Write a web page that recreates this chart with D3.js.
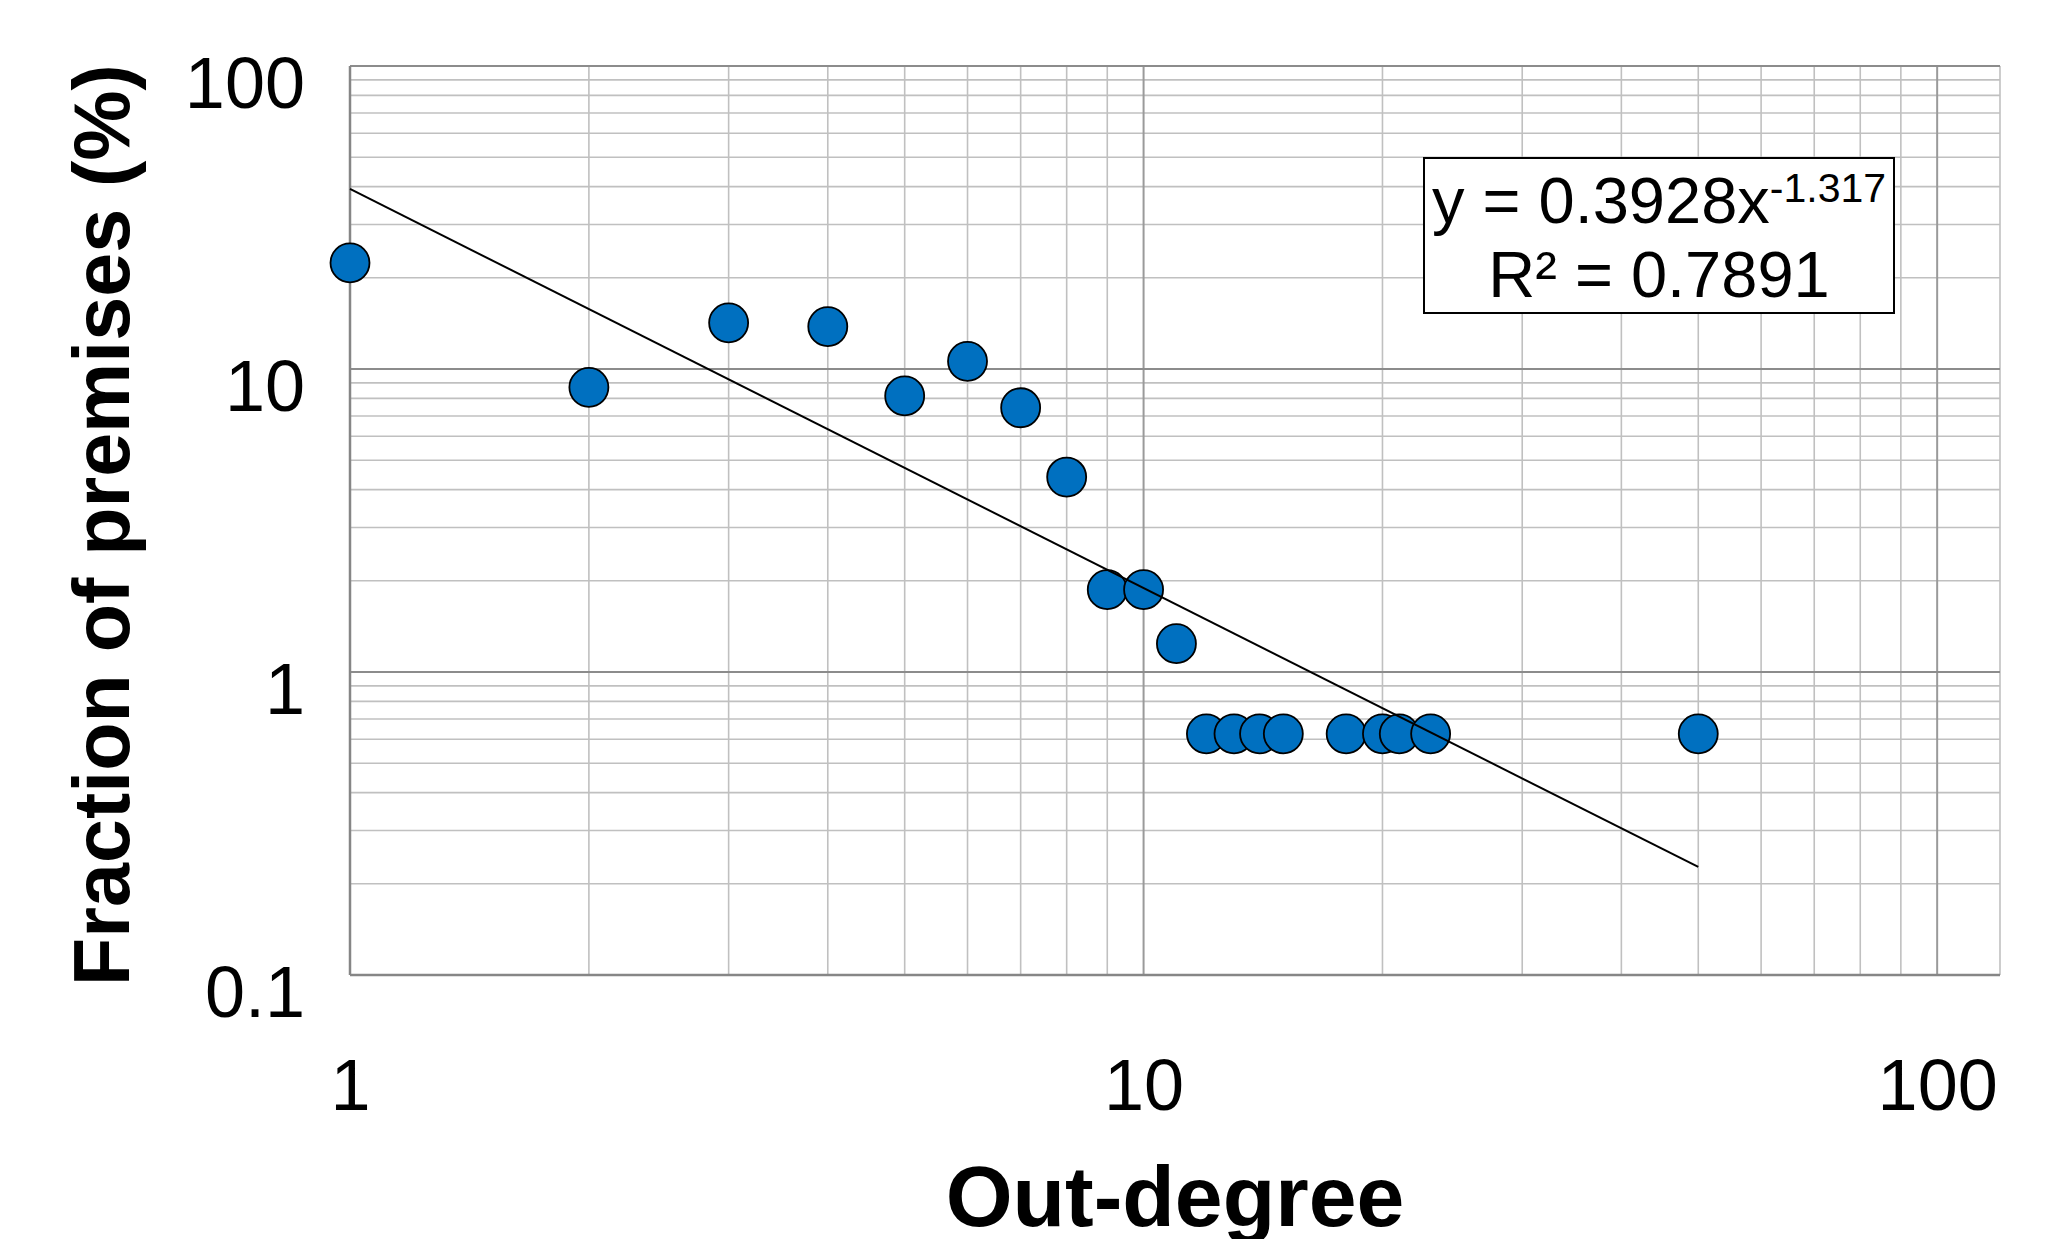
<!DOCTYPE html>
<html>
<head>
<meta charset="utf-8">
<script src="https://cdn.jsdelivr.net/npm/d3@7"></script>
<style>
  body { margin: 0; background: #fff; }
  text { font-family: "Liberation Sans", Arial, sans-serif; }
</style>
</head>
<body>
<script>
// data
var outDegree = [1, 2, 3, 4, 5, 6, 7, 8, 9, 10, 11, 12, 13, 14, 15, 18, 20, 21, 23, 50];
var fraction = [22.4, 8.7, 14.2, 13.8, 8.15, 10.6, 7.45, 4.4, 1.87, 1.87, 1.24,
                0.625, 0.625, 0.625, 0.625, 0.625, 0.625, 0.625, 0.625, 0.625];
var xTickLabels = [1, 10, 100];
var yTickLabels = [0.1, 1, 10, 100];
// power trendline as shown in the label (fit on fractions, plotted in %)
var trendCoef = 0.3928;
var trendExp = -1.317;
var trendRange = [1, 50];

var W = 2065, H = 1239;
var pLeft = 350, pRight = 2000, pTop = 66, pBottom = 975;

var svg = d3.select("body").append("svg")
  .attr("width", W)
  .attr("height", H);

var x = d3.scaleLog().domain([1, 120]).range([pLeft, pRight]);
var y = d3.scaleLog().domain([0.1, 100]).range([pBottom, pTop]);

var isMajor = function(v) { return Math.abs(Math.log10(v) - Math.round(Math.log10(v))) < 1e-9; };

// minor then major gridlines
var grid = svg.append("g");
var xt = x.ticks().filter(function(d) { return d <= 100; });
var yt = y.ticks();

grid.selectAll(".vminor").data(xt.filter(function(d) { return !isMajor(d); }))
  .enter().append("line")
  .attr("x1", function(d) { return x(d); }).attr("x2", function(d) { return x(d); })
  .attr("y1", pTop).attr("y2", pBottom)
  .attr("stroke", "#c0c0c0").attr("stroke-width", 1.6);

grid.selectAll(".hminor").data(yt.filter(function(d) { return !isMajor(d); }))
  .enter().append("line")
  .attr("x1", pLeft).attr("x2", pRight)
  .attr("y1", function(d) { return y(d); }).attr("y2", function(d) { return y(d); })
  .attr("stroke", "#c0c0c0").attr("stroke-width", 1.6);

// right edge of plot area
grid.append("line")
  .attr("x1", pRight).attr("x2", pRight).attr("y1", pTop).attr("y2", pBottom)
  .attr("stroke", "#c0c0c0").attr("stroke-width", 1.6);

grid.selectAll(".vmajor").data(xt.filter(isMajor))
  .enter().append("line")
  .attr("x1", function(d) { return x(d); }).attr("x2", function(d) { return x(d); })
  .attr("y1", pTop).attr("y2", pBottom)
  .attr("stroke", "#9a9a9a").attr("stroke-width", 2);

grid.selectAll(".hmajor").data(yt.filter(isMajor))
  .enter().append("line")
  .attr("x1", pLeft).attr("x2", pRight)
  .attr("y1", function(d) { return y(d); }).attr("y2", function(d) { return y(d); })
  .attr("stroke", "#8c8c8c").attr("stroke-width", 2);

// axes
var xAxis = svg.append("g")
  .attr("transform", "translate(0," + pBottom + ")")
  .call(d3.axisBottom(x).tickValues(xTickLabels).tickSize(0).tickPadding(0)
    .tickFormat(d3.format("d")));
xAxis.select(".domain").attr("stroke", "#868686").attr("stroke-width", 2.5)
  .attr("d", "M" + pLeft + ",0H" + pRight);
xAxis.selectAll("text")
  .attr("y", 135).attr("dy", null)
  .attr("fill", "#000").style("font-size", "72px");

var yAxis = svg.append("g")
  .attr("transform", "translate(" + pLeft + ",0)")
  .call(d3.axisLeft(y).tickValues(yTickLabels).tickSize(0).tickPadding(0)
    .tickFormat(function(d) { return d < 1 ? "0.1" : d3.format("d")(d); }));
yAxis.select(".domain").attr("stroke", "#868686").attr("stroke-width", 2.5)
  .attr("d", "M0," + pTop + "V" + pBottom);
yAxis.selectAll("text")
  .attr("x", -45).attr("dy", "0.58em")
  .attr("fill", "#000").style("font-size", "72px");

// points
svg.append("g").selectAll("circle")
  .data(outDegree.map(function(d, i) { return [d, fraction[i]]; }))
  .enter().append("circle")
  .attr("cx", function(d) { return x(d[0]); })
  .attr("cy", function(d) { return y(d[1]); })
  .attr("r", 19.5)
  .attr("fill", "#0070c0")
  .attr("stroke", "#000")
  .attr("stroke-width", 1.8);

// trendline
var trend = trendRange.map(function(v) { return [v, trendCoef * 100 * Math.pow(v, trendExp)]; });
svg.append("path")
  .datum(trend)
  .attr("d", d3.line().x(function(d) { return x(d[0]); }).y(function(d) { return y(d[1]); }))
  .attr("fill", "none")
  .attr("stroke", "#000")
  .attr("stroke-width", 2);

// trendline label
var lab = svg.append("g");
lab.append("rect")
  .attr("x", 1424).attr("y", 158).attr("width", 470).attr("height", 155)
  .attr("fill", "#fff").attr("stroke", "#000").attr("stroke-width", 2);
var t1 = lab.append("text")
  .attr("x", 1659).attr("y", 223)
  .attr("text-anchor", "middle")
  .style("font-size", "65px");
t1.append("tspan").text("y = " + trendCoef + "x");
t1.append("tspan").attr("dy", -21).style("font-size", "41px").text(trendExp);
lab.append("text")
  .attr("x", 1659).attr("y", 297)
  .attr("text-anchor", "middle")
  .style("font-size", "65px")
  .text("R² = 0.7891");

// axis titles
svg.append("text")
  .attr("x", (pLeft + pRight) / 2).attr("y", 1226)
  .attr("text-anchor", "middle")
  .style("font-size", "86px").style("font-weight", "bold")
  .text("Out-degree");

svg.append("text")
  .attr("transform", "translate(129," + 525 + ") rotate(-90)")
  .attr("text-anchor", "middle")
  .style("font-size", "79px").style("font-weight", "bold")
  .text("Fraction of premises (%)");
</script>
</body>
</html>
